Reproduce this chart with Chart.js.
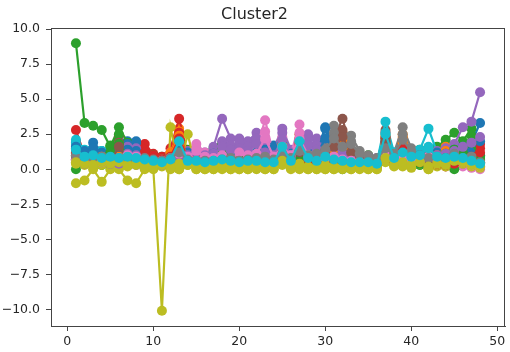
<!DOCTYPE html>
<html>
<head>
<meta charset="utf-8">
<title>Cluster2</title>
<script src="https://cdn.jsdelivr.net/npm/chart.js@4/dist/chart.umd.min.js"></script>
<style>
    html, body { margin: 0; padding: 0; background: #fff; }
    #wrap { width: 510px; height: 352px; }
</style>
</head>
<body>
<div id="wrap"><canvas id="clusterChart" width="510" height="352"></canvas></div>
<script>

// ==========================
// Data
// ==========================

const xs = [1,2,3,4,5,6,7,8,9,10,11,12,13,14,15,16,17,18,19,20,21,22,23,24,
            25,26,27,28,29,30,31,32,33,34,35,36,37,38,39,40,41,42,43,44,45,46,47,48];

const xTicks = [0, 10, 20, 30, 40, 50];
const yTicks = [-10, -7.5, -5, -2.5, 0, 2.5, 5, 7.5, 10];

const s0  = [1.9,1.2,1.9,1.3,1.4,1.5,2.0,2.0, 1.1,0.9,0.8,0.9,1.8,0.9,0.8,0.7, 0.9,1.0,0.8,0.9,1.1,1.0,1.2,1.7, 1.5,1.0,1.6,1.2,1.3,3.0,1.8,1.2, 1.0,0.9,0.8,0.7,1.6,1.1,1.4,1.0, 0.9,1.2,1.1,1.0,1.3,1.5,1.9,3.3];
const s1  = [1.2,0.9,1.0,0.8,1.1,1.0,0.9,0.8, 0.7,0.8,0.6,1.0,2.9,0.9,0.8,0.7, 0.8,0.9,1.0,0.8,0.9,1.1,0.9,0.8, 1.6,1.0,1.8,1.1,0.9,1.4,1.5,2.6, 1.2,0.9,0.8,0.7,1.9,1.0,2.5,1.2, 1.0,0.9,1.1,1.8,1.2,1.0,0.9,0.4];
const s2  = [9.0,3.3,3.1,2.8,1.6,3.0,1.9,1.5, 1.2,1.0,0.9,1.1,1.6,1.4,1.0,0.9, 1.5,1.8,1.2,1.1,1.3,1.0,0.9,1.2, 1.4,1.1,1.5,1.0,0.9,1.2,1.4,1.0, 0.9,0.8,1.0,0.7,1.2,1.0,1.3,1.1, 1.4,1.2,1.6,2.1,2.6,2.0,2.9,1.0];
const s3  = [2.8,1.0,1.1,0.9,0.8,0.9,1.0,1.2, 1.8,1.1,0.9,1.5,3.6,1.0,0.8,0.7, 0.6,0.8,0.7,0.6,0.5,0.7,0.6,0.8, 1.9,0.9,2.5,1.0,0.8,0.6,0.7,1.2, 0.8,0.6,0.5,0.6,2.6,0.9,2.1,0.8, 0.7,0.6,0.5,0.2,0.2,0.8,1.1,1.8];
const s4  = [0.9,0.5,0.6,0.7,0.5,0.4,0.3,0.3, 0.6,0.5,0.4,0.7,1.1,1.3,1.5,1.2, 1.6,3.6,2.2,2.2,2.0,2.6,1.9,1.5, 2.9,1.4,1.8,2.5,2.2,1.7,2.4,1.6, 1.2,1.0,0.9,0.8,1.5,1.0,1.3,0.9, 0.8,0.7,0.6,0.5,0.4,0.3,0.3,0.2];
const s5  = [1.0,0.7,0.6,0.8,0.7,2.4,0.9,0.8, 0.7,0.6,0.5,0.8,1.3,0.7,0.6,0.5, 0.6,0.4,0.3,0.6,0.7,0.6,0.5,0.7, 1.2,0.8,1.4,0.9,1.0,1.5,2.2,3.6, 1.4,0.9,0.8,0.6,2.8,0.7,1.0,0.8, 0.7,0.8,0.6,0.9,0.7,0.6,0.5,0.4];
const s6  = [0.8,0.6,0.7,0.5,0.6,0.7,1.5,1.4, 0.6,0.5,0.7,1.2,1.6,1.0,1.8,1.2, 0.9,1.1,0.8,1.4,1.2,1.5,3.5,1.0, 2.3,1.1,3.2,1.2,1.0,0.9,1.1,0.8, 0.7,0.6,0.5,0.6,1.4,0.8,0.9,0.7, 0.6,1.0,0.8,0.7,0.9,0.2,0.1,0.0];
const s7  = [1.1,0.8,0.9,1.0,0.8,0.9,0.7,0.8, 0.9,0.8,0.7,0.9,1.4,0.8,0.7,0.6, 0.7,0.8,0.9,0.7,0.8,0.9,1.0,0.8, 1.3,0.9,1.5,1.1,1.2,1.6,3.1,1.8, 2.4,1.3,1.0,0.8,1.7,1.2,3.0,1.5, 1.1,0.9,1.0,0.8,1.2,0.9,1.0,0.6];
const s8  = [-1.0,-0.8,0.0,-0.9,0.0,0.0,-0.8,-1.0, 0.0,0.0,-10.1,3.0,0.0,2.5,0.0,0.0, 0.0,0.0,0.0,0.0,0.0,0.2,0.0,0.0, 0.5,0.1,0.0,0.0,0.0,0.0,0.0,0.1, 0.0,0.1,0.0,0.0,2.4,0.3,0.2,0.1, 0.3,0.0,0.2,0.4,0.6,0.5,0.3,0.2];
const s9  = [2.1,1.4,1.2,1.3,1.1,1.2,1.3,1.1, 0.9,0.8,0.7,0.9,2.0,1.0,0.9,0.8, 0.9,1.0,0.8,0.7,0.9,0.8,0.7,0.6, 1.5,0.8,1.9,0.9,0.7,1.0,0.8,0.7, 0.6,0.5,0.6,0.5,3.4,1.2,1.6,1.1, 1.4,2.9,1.2,1.0,1.3,1.2,0.9,0.5];
const s10 = [1.5,0.8,1.0,0.9,1.2,1.1,1.8,1.9, 1.0,0.7,0.6,0.8,1.5,1.1,0.9,0.8, 1.0,1.2,0.9,1.0,0.8,1.1,1.3,1.6, 1.0,0.9,1.3,0.8,1.1,2.9,1.2,0.9, 0.8,0.7,0.6,0.5,1.0,0.8,0.9,0.7, 0.8,1.0,0.9,0.7,0.8,1.4,1.3,1.0];
const s11 = [0.7,0.5,0.6,0.7,0.6,0.8,0.6,0.5, 0.6,0.7,0.5,1.2,2.7,0.8,0.6,0.5, 0.6,0.7,0.5,0.6,0.7,0.8,0.9,0.7, 2.0,0.8,1.9,0.9,0.8,1.3,1.9,2.2, 1.1,0.8,0.7,0.6,2.2,1.0,2.3,1.0, 0.9,0.8,1.0,1.6,1.1,0.9,0.7,0.3];
const s12 = [0.0,0.4,0.5,0.3,1.7,2.5,1.2,0.9, 0.8,1.0,0.7,0.6,0.8,0.5,0.6,0.7, 1.2,1.7,0.9,0.8,1.0,0.9,0.8,0.7, 1.0,0.6,0.9,0.5,0.4,0.3,0.2,0.0, 0.1,0.4,0.3,0.2,0.7,0.5,0.6,0.4, 0.3,0.5,0.4,0.8,0.0,0.9,2.4,0.7];
const s13 = [1.3,0.7,0.8,0.6,0.7,0.8,0.6,0.7, 1.4,1.0,0.8,1.0,2.6,0.7,0.6,0.5, 0.7,0.6,0.5,0.4,0.6,0.5,0.4,0.6, 1.6,0.7,2.2,0.8,0.6,0.5,0.8,1.0, 0.6,0.5,0.4,0.5,2.3,0.6,1.8,0.7, 0.6,0.5,0.3,0.4,0.5,0.7,0.9,1.5];
const s14 = [0.6,0.4,0.5,0.6,0.4,0.5,1.6,1.5, 0.5,0.4,0.3,0.5,0.9,1.2,1.0,0.9, 1.3,2.0,1.7,1.9,1.6,2.2,1.4,1.2, 2.6,1.2,1.5,2.1,1.7,1.4,1.9,1.3, 1.0,0.8,0.7,0.6,1.3,0.9,1.1,0.8, 0.9,1.1,1.3,1.5,1.8,3.0,3.4,5.5];
const s15 = [0.7,0.5,0.4,0.6,0.5,1.9,0.7,0.6, 0.5,0.4,0.3,0.6,1.0,0.5,0.4,0.3, 0.4,0.3,0.3,0.5,0.6,0.5,0.4,0.5, 1.0,0.6,1.1,0.7,0.8,1.2,1.9,2.8, 1.1,0.7,0.6,0.5,2.2,0.6,0.8,0.6, 0.5,0.6,0.5,0.7,0.5,0.4,0.3,0.3];
const s16 = [0.5,0.4,0.5,0.4,0.5,0.6,1.2,1.1, 0.5,0.4,0.5,0.9,1.3,0.8,1.5,1.0, 0.7,0.9,0.6,1.1,1.0,1.2,2.7,0.8, 1.8,0.9,2.6,1.0,0.8,0.7,0.9,0.6, 0.5,0.4,0.4,0.5,1.1,0.6,0.7,0.5, 0.5,0.8,0.6,0.5,0.7,0.4,0.2,0.1];
const s17 = [0.9,0.6,0.7,0.8,0.6,0.7,0.5,0.6, 0.7,0.6,0.5,0.7,1.1,0.6,0.5,0.5, 0.5,0.6,0.7,0.5,0.6,0.7,0.8,0.6, 1.0,0.7,1.2,0.9,1.0,1.3,2.6,1.5, 2.0,1.0,0.8,0.6,1.4,1.0,2.5,1.2, 0.9,0.7,0.8,0.6,1.0,0.7,0.8,0.5];
const s18 = [0.4,0.3,0.2,0.3,0.4,0.3,0.2,0.3, 0.2,0.1,0.2,0.0,0.0,0.3,0.0,0.0, 0.0,0.1,0.0,0.0,0.0,0.0,0.0,0.0, 0.3,0.0,0.2,0.0,0.0,0.0,0.0,0.0, 0.0,0.0,0.0,0.0,0.5,0.2,0.3,0.2, 0.4,0.0,0.3,0.2,0.5,0.4,0.2,0.1];
const s19 = [1.8,1.0,0.9,1.1,0.9,1.0,1.1,1.2, 0.8,0.6,0.5,0.7,2.1,0.7,0.8,0.6, 0.7,0.8,0.6,0.5,0.7,0.6,0.5,0.4, 1.9,0.6,2.0,0.7,0.5,0.8,0.6,0.5, 0.4,0.4,0.5,0.4,2.6,0.9,1.3,0.8, 1.1,1.6,1.0,0.8,1.0,0.9,0.7,0.4];
const s20 = [1.6,1.3,1.5,1.2,1.0,1.3,1.4,1.3, 0.9,0.8,0.7,1.0,1.7,1.2,1.0,0.9, 1.1,1.3,1.0,1.2,1.0,1.2,1.4,1.5, 1.8,1.1,1.4,1.2,1.0,2.2,1.5,1.1, 1.0,0.8,0.7,0.6,1.3,1.0,1.1,0.9, 1.0,1.1,1.2,1.1,1.4,1.6,1.8,2.0];
const s21 = [1.0,0.7,0.8,0.9,0.8,0.9,0.8,0.7, 0.8,0.6,0.7,1.1,2.4,0.8,0.7,0.6, 0.7,0.8,0.7,0.6,0.8,0.9,0.8,0.9, 1.7,0.9,1.6,1.0,0.9,1.2,1.4,2.0, 1.0,0.8,0.7,0.5,1.8,0.9,1.9,0.9, 0.8,0.9,1.0,1.3,1.0,0.8,0.6,0.5];
const s22 = [0.6,0.5,0.7,0.6,1.2,1.8,1.0,0.8, 0.7,0.8,0.6,0.7,1.2,0.6,0.5,0.6, 1.0,1.4,0.8,0.7,0.9,0.8,0.7,0.8, 1.2,0.7,1.1,0.6,0.5,0.7,0.5,0.3, 0.3,0.5,0.4,0.3,1.0,0.6,0.8,0.5, 0.4,0.6,0.5,1.1,1.4,1.2,1.9,0.9];
const s23 = [1.1,0.8,0.9,0.7,0.6,0.7,0.8,0.9, 1.2,0.9,0.7,0.9,2.2,0.8,0.6,0.6, 0.6,0.5,0.6,0.5,0.4,0.6,0.5,0.5, 1.3,0.6,1.8,0.7,0.5,0.4,0.6,0.9, 0.5,0.4,0.4,0.4,1.9,0.5,1.5,0.6, 0.5,0.4,0.4,0.3,0.4,0.6,0.8,1.2];
const s24 = [0.7,0.4,0.4,0.5,0.4,0.4,1.1,1.0, 0.4,0.3,0.3,0.4,0.8,1.0,1.2,1.0, 1.1,1.6,1.4,1.5,1.3,1.8,1.2,1.0, 2.1,1.0,1.3,1.7,1.4,1.1,1.6,1.1, 0.8,0.7,0.6,0.5,1.1,0.7,0.9,0.7, 0.7,0.8,1.0,1.1,1.3,1.6,1.9,2.3];
const s25 = [0.8,0.6,0.5,0.7,0.6,1.6,0.8,0.7, 0.6,0.5,0.4,0.7,1.1,0.6,0.5,0.4, 0.5,0.4,0.4,0.5,0.6,0.6,0.5,0.6, 1.1,0.7,1.2,0.8,0.9,1.3,1.6,2.3, 1.2,0.8,0.7,0.5,2.0,0.6,0.9,0.7, 0.6,0.7,0.6,0.8,0.6,0.5,0.4,0.3];
const s26 = [0.6,0.5,0.6,0.5,0.5,0.6,1.0,0.9, 0.6,0.5,0.6,0.8,1.1,0.9,1.3,0.9, 0.8,1.0,0.7,1.2,1.0,1.1,2.2,0.9, 1.6,1.0,2.2,1.0,0.9,0.8,0.9,0.7, 0.6,0.5,0.5,0.5,1.0,0.7,0.8,0.6, 0.6,0.9,0.7,0.6,0.8,0.5,0.3,0.2];
const s27 = [1.0,0.7,0.8,0.9,0.7,0.8,0.6,0.7, 0.8,0.7,0.6,0.8,1.2,0.7,0.6,0.6, 0.6,0.7,0.8,0.6,0.7,0.8,0.9,0.7, 1.1,0.8,1.3,1.0,1.1,1.4,2.2,1.6, 1.8,1.1,0.9,0.7,1.5,1.1,2.1,1.3, 1.0,0.8,0.9,0.7,1.1,0.8,0.9,0.5];
const s28 = [0.5,0.4,0.3,0.5,0.4,0.5,0.3,0.4, 0.3,0.2,0.3,0.2,0.4,0.3,0.2,0.2, 0.2,0.3,0.2,0.3,0.2,0.3,0.2,0.2, 0.6,0.2,0.4,0.2,0.2,0.3,0.2,0.2, 0.2,0.2,0.3,0.2,0.8,0.4,0.5,0.3, 0.5,0.2,0.4,0.3,0.6,0.5,0.3,0.2];
const s29 = [1.4,0.9,1.0,0.8,0.9,0.8,0.9,0.8, 0.7,0.6,0.5,0.7,2.0,0.6,0.6,0.5, 0.6,0.7,0.6,0.5,0.6,0.6,0.5,0.5, 1.6,0.6,2.0,0.8,0.6,0.9,0.7,0.6, 0.5,0.5,0.5,0.4,2.5,0.8,1.2,0.9, 1.0,1.5,0.9,0.8,0.9,0.8,0.6,0.4];

const series = [s0,s1,s2,s3,s4,s5,s6,s7,s8,s9,s10,s11,s12,s13,s14,
                s15,s16,s17,s18,s19,s20,s21,s22,s23,s24,s25,s26,s27,s28,s29];

// matplotlib "tab10" cycle
const palette = ["#1f77b4","#ff7f0e","#2ca02c","#d62728","#9467bd",
                 "#8c564b","#e377c2","#7f7f7f","#bcbd22","#17becf"];

// ==========================
// Chart
// ==========================

const axisColor = "#444";
const textColor = "#262626";
const fontFamily = "'DejaVu Sans', sans-serif";

// full box around the plot area (top and right spines too)
const frame = {
    id: "frame",
    afterDraw(chart){
        const a = chart.chartArea;
        const c = chart.ctx;
        c.save();
        c.strokeStyle = axisColor;
        c.lineWidth = 1;
        c.strokeRect(Math.round(a.left) + 0.5, Math.round(a.top) + 0.5,
                     Math.round(a.right - a.left) - 1, Math.round(a.bottom - a.top));
        c.restore();
    }
};

// later series are drawn on top, like a plain loop of plot() calls
const datasets = series.map((ys, i) => ({
    label: "series " + (i + 1),
    data: xs.map((x, j) => ({ x: x, y: ys[j] })),
    borderColor: palette[i % palette.length],
    backgroundColor: palette[i % palette.length],
    pointBackgroundColor: palette[i % palette.length],
    pointBorderWidth: 0,
    pointRadius: 5,
    borderWidth: 2.2,
    tension: 0,
    order: -i
}));

new Chart(document.getElementById("clusterChart"), {

    type: "line",

    data: { datasets: datasets },

    plugins: [frame],

    options: {
        responsive: false,
        animation: false,
        devicePixelRatio: 1,
        layout: { padding: { top: 0, right: 1, bottom: 0, left: 0 } },
        plugins: {
            legend: { display: false },
            tooltip: { enabled: false },
            title: {
                display: true,
                text: "Cluster2",
                color: textColor,
                font: { family: fontFamily, size: 16, weight: "normal" },
                padding: { top: 5, bottom: 4 }
            }
        },
        scales: {
            x: {
                type: "linear",
                min: -1.9,
                max: 50.9,
                afterBuildTicks(scale){
                    scale.ticks = xTicks.map(v => ({ value: v }));
                },
                afterFit(scale){
                    scale.height = 26;
                },
                ticks: {
                    color: textColor,
                    font: { family: fontFamily, size: 12.5 },
                    padding: 3,
                    maxRotation: 0,
                    callback: v => String(v)
                },
                grid: { drawOnChartArea: false, drawTicks: true, tickLength: 5, color: axisColor },
                border: { display: true, color: axisColor }
            },
            y: {
                type: "linear",
                min: -11.19,
                max: 10.07,
                afterBuildTicks(scale){
                    scale.ticks = yTicks.map(v => ({ value: v }));
                },
                afterFit(scale){
                    scale.width = 51;
                },
                ticks: {
                    color: textColor,
                    font: { family: fontFamily, size: 12.5 },
                    padding: 6,
                    callback: v => v.toFixed(1).replace("-", "\u2212")
                },
                grid: { drawOnChartArea: false, drawTicks: true, tickLength: 5, color: axisColor },
                border: { display: true, color: axisColor }
            }
        }
    }

});

</script>
</body>
</html>
